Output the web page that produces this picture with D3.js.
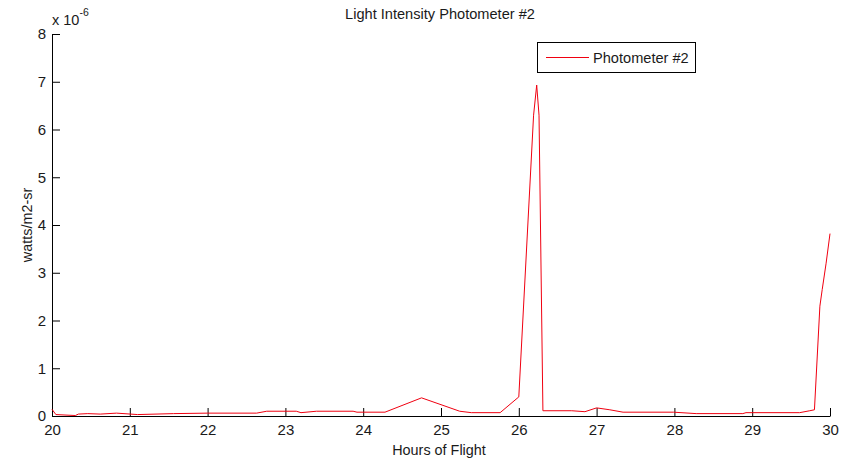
<!DOCTYPE html>
<html>
<head>
<meta charset="utf-8">
<script src="https://cdn.jsdelivr.net/npm/d3@7"></script>
<style>
  html, body { margin: 0; padding: 0; background: #fff; }
  svg { display: block; }
  text { font-family: "Liberation Sans", Arial, sans-serif; fill: #1a1a1a; }
</style>
</head>
<body>
<svg id="chart" width="847" height="461"></svg>
<script>
// Data (values in units of 1e-6 watts/m2-sr)
const hours = [20.00, 20.05, 20.30, 20.34, 20.46, 20.62, 20.83, 21.10, 21.56, 22.00,
               22.63, 22.76, 23.14, 23.20, 23.40, 23.87, 23.92, 24.28, 24.75, 25.24,
               25.39, 25.76, 26.00, 26.19, 26.23, 26.26, 26.31, 26.68, 26.85, 27.00,
               27.17, 27.34, 27.99, 28.28, 28.88, 28.92, 29.61, 29.74, 29.80, 29.87,
               29.90, 29.95, 30.00];
const intensity = [0.14, 0.03, 0.01, 0.04, 0.05, 0.04, 0.06, 0.03, 0.05, 0.06,
                   0.06, 0.10, 0.10, 0.07, 0.10, 0.10, 0.08, 0.08, 0.38, 0.10,
                   0.07, 0.07, 0.40, 6.30, 6.93, 6.30, 0.11, 0.11, 0.09, 0.17,
                   0.13, 0.08, 0.08, 0.05, 0.05, 0.07, 0.07, 0.11, 0.13, 2.30,
                   2.65, 3.20, 3.82];
const xTicks = [20, 21, 22, 23, 24, 25, 26, 27, 28, 29, 30];
const yTicks = [0, 1, 2, 3, 4, 5, 6, 7, 8];
const exponent = "-6";
const titleText = "Light Intensity Photometer #2";
const xLabel = "Hours of Flight";
const yLabel = "watts/m2-sr";
const seriesName = "Photometer #2";

const data = hours.map((h, i) => ({ h, v: intensity[i] }));

const svg = d3.select("#chart");
const margin = { left: 52, right: 17, top: 34, bottom: 45 };
const W = 847, H = 461;

const x = d3.scaleLinear().domain([20, 30]).range([margin.left, W - margin.right]);
const y = d3.scaleLinear().domain([0, 8]).range([H - margin.bottom, margin.top]);

const tickLen = 8;
const lineColor = "#f00010";

// X axis
const xAxis = svg.append("g")
  .attr("transform", `translate(0,${y(0)})`)
  .call(d3.axisBottom(x).tickValues(xTicks).tickSizeInner(-tickLen).tickSizeOuter(0).tickPadding(8));
xAxis.select(".domain").attr("stroke", "#000");
xAxis.selectAll(".tick line").attr("stroke", "#000");
xAxis.selectAll(".tick text").attr("font-size", 15).attr("fill", "#1a1a1a")
  .attr("font-family", "Liberation Sans, Arial, sans-serif");

// Y axis
const yAxis = svg.append("g")
  .attr("transform", `translate(${x(20)},0)`)
  .call(d3.axisLeft(y).tickValues(yTicks).tickSizeInner(-tickLen).tickSizeOuter(0).tickPadding(6));
yAxis.select(".domain").attr("stroke", "#000");
yAxis.selectAll(".tick line").attr("stroke", "#000");
yAxis.selectAll(".tick text").attr("font-size", 15).attr("fill", "#1a1a1a")
  .attr("font-family", "Liberation Sans, Arial, sans-serif");

// Line
const line = d3.line().x(d => x(d.h)).y(d => y(d.v));
svg.append("path")
  .datum(data)
  .attr("fill", "none")
  .attr("stroke", lineColor)
  .attr("stroke-width", 1)
  .attr("stroke-linejoin", "round")
  .attr("d", line);

// Title
svg.append("text")
  .attr("x", 440).attr("y", 19)
  .attr("text-anchor", "middle")
  .attr("font-size", 14.6)
  .text(titleText);

// X label
svg.append("text")
  .attr("x", 439).attr("y", 455)
  .attr("text-anchor", "middle")
  .attr("font-size", 14.4)
  .text(xLabel);

// Y label
svg.append("text")
  .attr("transform", `translate(32,${(y(0) + y(8)) / 2}) rotate(-90)`)
  .attr("text-anchor", "middle")
  .attr("font-size", 14.4)
  .text(yLabel);

// Exponent
const ex = svg.append("text").attr("x", x(20)).attr("y", 25).attr("font-size", 14.5);
ex.append("tspan").text("x 10");
ex.append("tspan").attr("dy", -9).attr("font-size", 10.5).text(exponent);

// Legend
const lg = svg.append("g");
lg.append("rect")
  .attr("x", 537.5).attr("y", 42.5).attr("width", 158).attr("height", 30)
  .attr("fill", "#fff").attr("stroke", "#000").attr("stroke-width", 1);
lg.append("line")
  .attr("x1", 546).attr("x2", 589).attr("y1", 57.5).attr("y2", 57.5)
  .attr("stroke", lineColor).attr("stroke-width", 1);
lg.append("text")
  .attr("x", 593).attr("y", 63)
  .attr("font-size", 14.6)
  .text(seriesName);
</script>
</body>
</html>
